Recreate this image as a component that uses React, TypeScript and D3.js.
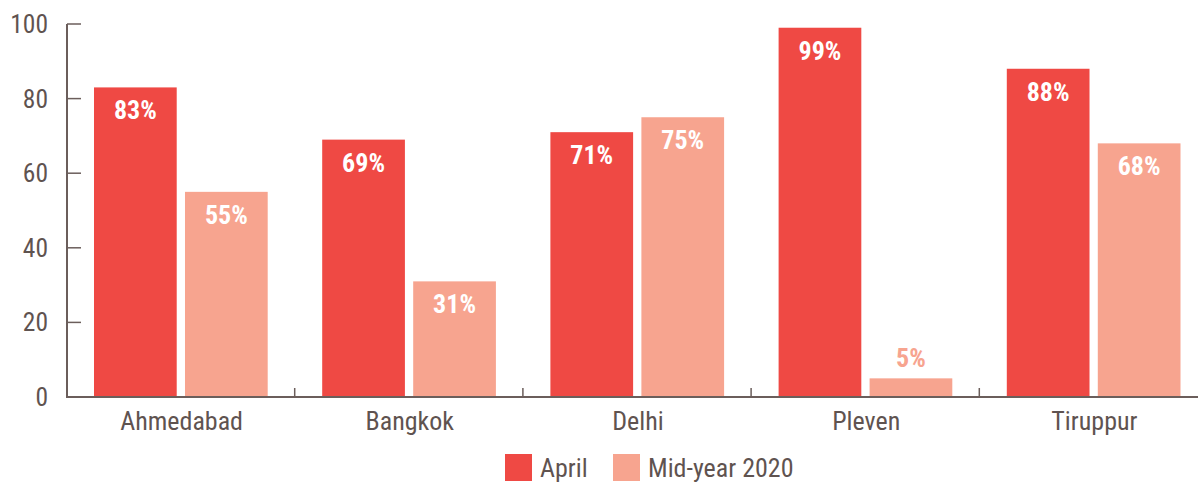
import React from "react";
import * as d3 from "d3";

const categories = ["Ahmedabad", "Bangkok", "Delhi", "Pleven", "Tiruppur"];
const seriesNames = ["April", "Mid-year 2020"];
const april = [83, 69, 71, 99, 88];
const midYear = [55, 31, 75, 5, 68];
const yTicks = [0, 20, 40, 60, 80, 100];

const W = 1198;
const H = 482;
const colors = ["#ef4944", "#f7a48f"];
const textColor = "#5f5350";
const axisColor = "#6b5e5b";
const font = "Roboto, 'Liberation Sans', sans-serif";
const cond = { fontStretch: "condensed" } as React.CSSProperties;

export default function App() {
  const x0 = 66.5;
  const bandW = 228.2;
  const x = d3
    .scaleBand<string>()
    .domain(categories)
    .range([x0, x0 + bandW * categories.length])
    .paddingInner(0)
    .paddingOuter(0);
  const xs = d3
    .scaleBand<string>()
    .domain(seriesNames)
    .range([27.5, bandW - 27])
    .paddingInner(0.091);
  const y = d3.scaleLinear().domain([0, 100]).range([397, 24]);
  const series = [april, midYear];

  return (
    <svg
      width={W}
      height={H}
      style={{ position: "absolute", left: 0, top: 0, background: "#fff" }}
      fontFamily={font}
    >
      {/* bars */}
      {categories.map((c, i) => (
        <g key={c} transform={`translate(${x(c)},0)`}>
          {series.map((s, j) => {
            const v = s[i];
            const bx = xs(seriesNames[j])!;
            const bw = xs.bandwidth();
            const top = y(v);
            const inside = y(0) - top > 40;
            return (
              <g key={j}>
                <rect x={bx} y={top} width={bw} height={y(0) - top} fill={colors[j]} />
                <text
                  x={bx + bw / 2}
                  y={inside ? top + 32 : top - 11}
                  textAnchor="middle"
                  fontWeight={700}
                  fontSize={26}
                  fill={inside ? "#fff" : colors[j]}
                  style={cond}
                >
                  {v}%
                </text>
              </g>
            );
          })}
        </g>
      ))}

      {/* y axis */}
      <line x1={67} x2={67} y1={y(100)} y2={y(0) + 1} stroke={axisColor} strokeWidth={2} />
      {yTicks.map((t) => (
        <g key={t}>
          <line x1={67} x2={81} y1={y(t)} y2={y(t)} stroke={axisColor} strokeWidth={1.5} />
          <text
            x={48}
            y={y(t) + 9}
            textAnchor="end"
            fontSize={25.5}
            fill={textColor}
            style={cond}
          >
            {t}
          </text>
        </g>
      ))}

      {/* x axis */}
      <line x1={66} x2={W} y1={y(0)} y2={y(0)} stroke={axisColor} strokeWidth={2} />
      {categories.slice(1).map((c) => (
        <line
          key={c}
          x1={x(c)}
          x2={x(c)}
          y1={y(0) - 9}
          y2={y(0)}
          stroke={axisColor}
          strokeWidth={1.5}
        />
      ))}
      {categories.map((c) => (
        <text
          key={c}
          x={x(c)! + x.bandwidth() / 2 + 1}
          y={430}
          textAnchor="middle"
          fontSize={26}
          fill={textColor}
          style={cond}
        >
          {c}
        </text>
      ))}

      {/* legend */}
      {seriesNames.map((s, j) => {
        const lx = [505, 613][j];
        return (
          <g key={s}>
            <rect x={lx} y={454} width={27} height={27} fill={colors[j]} />
            <text x={lx + 35} y={477} fontSize={26} fill={textColor} style={cond}>
              {s}
            </text>
          </g>
        );
      })}
    </svg>
  );
}
